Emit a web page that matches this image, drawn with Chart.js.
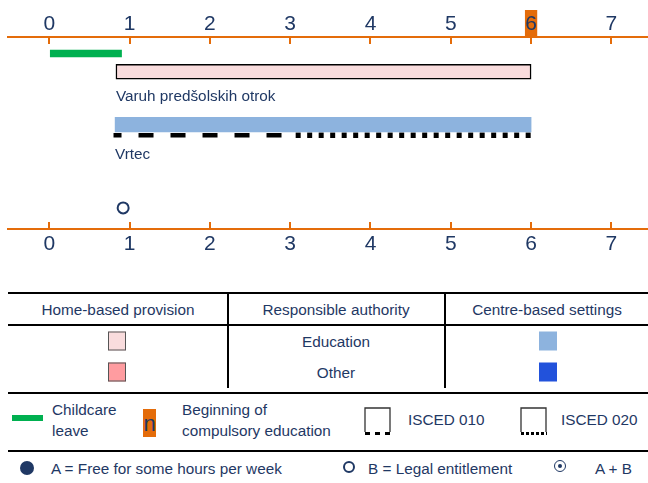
<!DOCTYPE html>
<html>
<head>
<meta charset="utf-8">
<script src="https://cdn.jsdelivr.net/npm/chart.js@4.4.1/dist/chart.umd.min.js"></script>
<style>
  html, body { margin: 0; padding: 0; background: #fff; }
  body {
    width: 648px; height: 483px; position: relative; overflow: hidden;
    font-family: 'Liberation Sans', Arial, sans-serif; font-size: 15.3px; color: #1f3864;
  }
  #chartBox { position: absolute; left: 0; top: 0; width: 648px; height: 265px; }
  .hline { position: absolute; left: 8px; right: 0; height: 2px; background: #000; }
  .vline { position: absolute; top: 293px; width: 2px; height: 95px; background: #000; }
  .t { position: absolute; white-space: nowrap; line-height: 1; }
  .mid { transform: translate(-50%, -50%); }
  .left { transform: translateY(-50%); }
  .sw { position: absolute; width: 18px; height: 19px; transform: translate(-50%, -50%); box-sizing: border-box; }
  .two { position: absolute; line-height: 21px; white-space: nowrap; }
</style>
</head>
<body>
<div id="chartBox"><canvas id="eceChart" width="648" height="265"></canvas></div>

<!-- legend table -->
<div class="hline" style="top:292px"></div>
<div class="hline" style="top:324px"></div>
<div class="hline" style="top:392px"></div>
<div class="vline" style="left:227px"></div>
<div class="vline" style="left:444px"></div>
<div class="t mid" style="left:118px; top:310px">Home-based provision</div>
<div class="t mid" style="left:336px; top:310px">Responsible authority</div>
<div class="t mid" style="left:547px; top:310px">Centre-based settings</div>
<div class="sw" style="left:117px; top:341px; background:#f9dcdd; border:1px solid #555"></div>
<div class="sw" style="left:117px; top:372px; background:#ff9ca0; border:1px solid #555"></div>
<div class="sw" style="left:548px; top:341px; background:#8db3de"></div>
<div class="sw" style="left:548px; top:372px; background:#2252db"></div>
<div class="t mid" style="left:336px; top:342px">Education</div>
<div class="t mid" style="left:336px; top:373px">Other</div>

<!-- second legend row -->
<div style="position:absolute; left:12px; top:415px; width:31px; height:6px; background:#00b050"></div>
<div class="two" style="left:52px; top:399px">Childcare<br>leave</div>
<div style="position:absolute; left:143px; top:409px; width:13px; height:28px; background:#e46c0a; color:#1f3864; font-size:22px; line-height:30px; text-align:center; overflow:hidden">n</div>
<div class="two" style="left:182px; top:399px">Beginning of<br>compulsory education</div>
<svg style="position:absolute; left:363px; top:406px" width="30" height="30">
  <path d="M2 26 V2 H27 V26" fill="none" stroke="#333" stroke-width="1.3"/>
  <line x1="2" y1="27.5" x2="28" y2="27.5" stroke="#000" stroke-width="3" stroke-dasharray="5,5"/>
</svg>
<div class="t left" style="left:408px; top:420px">ISCED 010</div>
<svg style="position:absolute; left:519px; top:406px" width="30" height="30">
  <path d="M2 26 V2 H27 V26" fill="none" stroke="#333" stroke-width="1.3"/>
  <line x1="2" y1="27.5" x2="28" y2="27.5" stroke="#000" stroke-width="3" stroke-dasharray="3,2"/>
</svg>
<div class="t left" style="left:561px; top:420px">ISCED 020</div>
<div class="hline" style="top:450px"></div>

<!-- third legend row -->
<div style="position:absolute; left:20px; top:461px; width:14px; height:14px; border-radius:50%; background:#1f3864"></div>
<div class="t left" style="left:51px; top:469px">A = Free for some hours per week</div>
<div style="position:absolute; left:343px; top:461px; width:12px; height:12px; border-radius:50%; border:2px solid #1f3864; box-sizing:border-box"></div>
<div class="t left" style="left:368px; top:469px">B = Legal entitlement</div>
<div style="position:absolute; left:554px; top:460px; width:12px; height:12px; border-radius:50%; border:1.5px solid #1f3864; box-sizing:border-box"></div>
<div style="position:absolute; left:558px; top:464px; width:4px; height:4px; border-radius:50%; background:#1f3864"></div>
<div class="t left" style="left:595px; top:469px">A + B</div>

<script>
// ages shown on the two axes
const ageTicks = [0, 1, 2, 3, 4, 5, 6, 7];
const compulsoryAge = 6;

// childcare leave (years of age)
const childcareLeave = [0, 0.9];

// settings: home-based first, centre-based second
const settingNames = ['Varuh predšolskih otrok', 'Vrtec'];
const settingFrom = [0.83, 0.82];
const settingTo = [6, 6];

// ISCED coverage of the centre-based setting
const isced010 = [0.8, 3];
const isced020 = [3, 6];

// legal entitlement starts
const legalEntitlement = [0.92];

// ---- layout / style ----
const NAVY = '#1f3864';
const ORANGE = '#e46c0a';
const FONT = "'Liberation Sans', Arial, sans-serif";
const X_MIN = -0.514, X_MAX = 7.456;
// vertical lanes (y scale runs 0..10 from top axis to bottom axis)
const lane = { leave: 0.86, home: 1.81, homeName: 3.1, centre: 4.56, isced: 5.12, centreName: 6.15, right: 8.9 };

function ageAxis(position, height, padding, withMarker) {
    return {
        type: 'linear',
        position: position,
        min: X_MIN,
        max: X_MAX,
        offset: false,
        afterBuildTicks: (s) => { s.ticks = ageTicks.map(v => ({ value: v })); },
        afterFit: (s) => { s.height = height; s.paddingLeft = 0; s.paddingRight = 0; },
        grid: { drawOnChartArea: false, offset: false, color: ORANGE, lineWidth: 2, tickLength: -7 },
        border: { color: ORANGE, width: 2 },
        ticks: {
            color: NAVY,
            font: { family: FONT, size: 21 },
            padding: padding,
            maxRotation: 0,
            autoSkip: false,
            callback: (v) => String(v),
            showLabelBackdrop: (c) => withMarker && c.tick && c.tick.value === compulsoryAge,
            backdropColor: ORANGE,
            backdropPadding: { top: 1.4, bottom: 0, left: 0.3, right: 0.3 }
        }
    };
}

// names under the bars
const settingLabels = {
    id: 'settingLabels',
    afterDatasetsDraw(chart) {
        const { ctx, scales } = chart;
        ctx.save();
        ctx.font = '15.3px ' + FONT;
        ctx.fillStyle = NAVY;
        ctx.textBaseline = 'middle';
        ctx.fillText(settingNames[0], scales.x.getPixelForValue(settingFrom[0]), scales.y.getPixelForValue(lane.homeName));
        ctx.fillText(settingNames[1], scales.x.getPixelForValue(settingFrom[1]), scales.y.getPixelForValue(lane.centreName));
        ctx.restore();
    }
};

const ctx = document.getElementById('eceChart').getContext('2d');
new Chart(ctx, {
    type: 'bar',
    data: {
        datasets: [
            {
                label: 'Childcare leave',
                indexAxis: 'y',
                grouped: false,
                data: [{ x: childcareLeave, y: lane.leave }],
                backgroundColor: '#00b050',
                barThickness: 7
            },
            {
                label: settingNames[0],
                indexAxis: 'y',
                grouped: false,
                data: [{ x: [settingFrom[0], settingTo[0]], y: lane.home }],
                backgroundColor: '#f9dcdd',
                borderColor: '#000',
                borderWidth: 1.5,
                borderSkipped: false,
                barThickness: 15
            },
            {
                label: settingNames[1],
                indexAxis: 'y',
                grouped: false,
                data: [{ x: [settingFrom[1], settingTo[1]], y: lane.centre }],
                backgroundColor: '#8db3de',
                barThickness: 14.5
            },
            {
                type: 'line',
                label: 'ISCED 010',
                data: isced010.map(v => ({ x: v, y: lane.isced })),
                borderColor: '#000',
                borderWidth: 4.5,
                borderDash: [15, 17],
                borderDashOffset: 7,
                borderCapStyle: 'butt',
                pointRadius: 0,
                fill: false
            },
            {
                type: 'line',
                label: 'ISCED 020',
                data: isced020.map(v => ({ x: v, y: lane.isced })),
                borderColor: '#000',
                borderWidth: 5.5,
                borderDash: [5, 6.5],
                borderDashOffset: 6,
                borderCapStyle: 'butt',
                pointRadius: 0,
                fill: false
            },
            {
                type: 'scatter',
                label: 'Legal entitlement',
                data: legalEntitlement.map(v => ({ x: v, y: lane.right })),
                pointRadius: 5.5,
                borderWidth: 2,
                borderColor: NAVY,
                backgroundColor: '#fff'
            }
        ]
    },
    options: {
        responsive: false,
        animation: false,
        devicePixelRatio: 1,
        layout: { autoPadding: false, padding: { left: 8, right: 0, top: 0, bottom: 0 } },
        plugins: { legend: { display: false }, tooltip: { enabled: false } },
        scales: {
            x: ageAxis('top', 37, 7.4, true),
            x2: ageAxis('bottom', 36, 9.4, false),
            y: { type: 'linear', reverse: true, min: 0, max: 10, offset: false, grid: { offset: false }, display: false }
        }
    },
    plugins: [settingLabels]
});
</script>
</body>
</html>
